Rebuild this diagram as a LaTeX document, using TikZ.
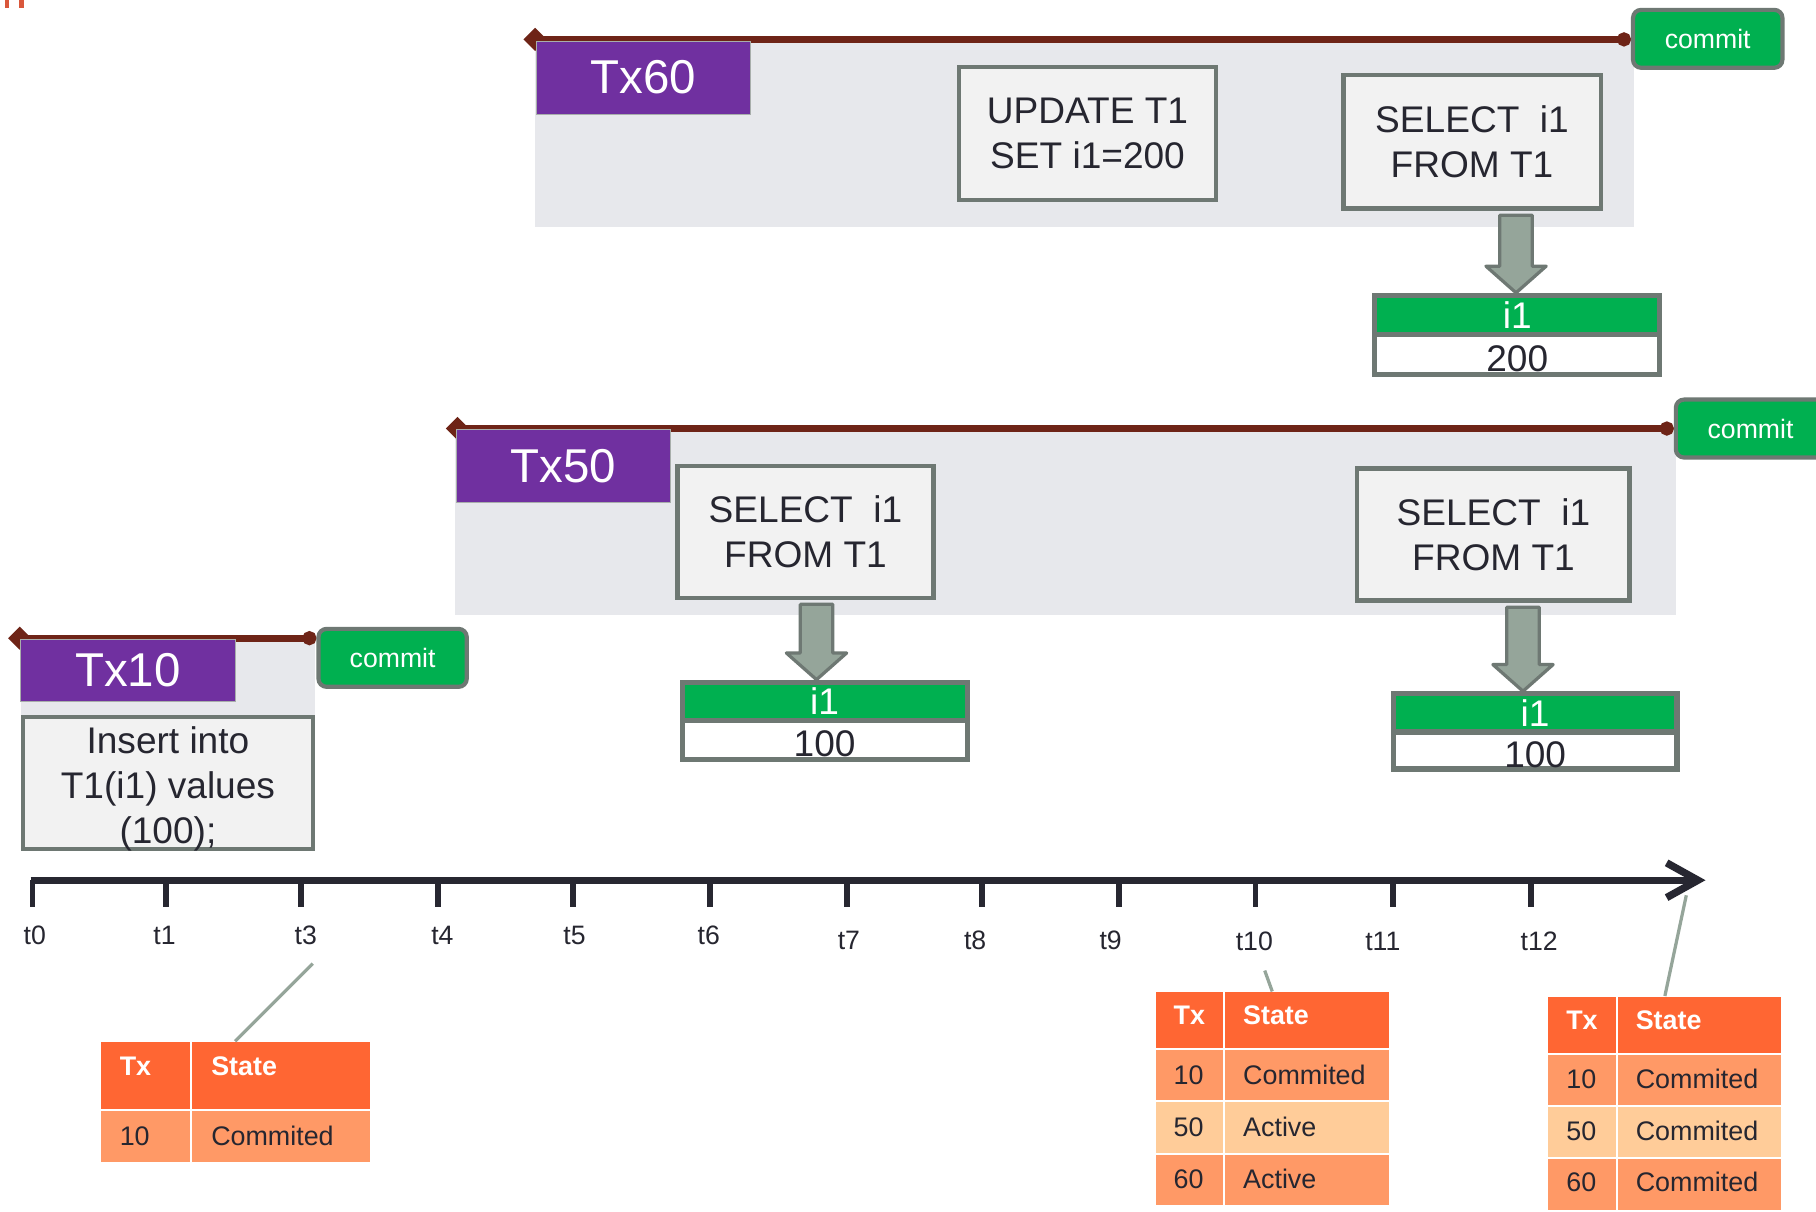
\documentclass[tikz,border=0pt]{standalone}
\usepackage{fontspec}
\setmainfont{Liberation Sans}
\usetikzlibrary{arrows.meta,calc}
\pgfdeclarelayer{lanes}
\pgfdeclarelayer{lifelines}
\pgfsetlayers{lanes,lifelines,main}

\definecolor{lane}{HTML}{E7E8EC}
\definecolor{lifebrown}{HTML}{6E2417}
\definecolor{txpurple}{HTML}{7030A0}
\definecolor{stmtfill}{HTML}{F2F2F2}
\definecolor{edgegray}{HTML}{6E7873}
\definecolor{okgreen}{HTML}{00B050}
\definecolor{dropfill}{HTML}{95A59A}
\definecolor{ink}{HTML}{262630}
\definecolor{axisink}{HTML}{272731}
\definecolor{hdr}{HTML}{FF6633}
\definecolor{rowdark}{HTML}{FF9966}
\definecolor{rowlight}{HTML}{FFCC99}
\definecolor{marker}{HTML}{D9573B}

\tikzset{
  stmt/.style={draw=edgegray, line width=1.8pt, fill=stmtfill, text=ink, align=center,
    inner sep=0pt, font=\fontsize{16}{19.5}\selectfont},
  stmttext/.style={text=ink, align=center, inner sep=0pt, font=\fontsize{16}{19.5}\selectfont},
  txtag/.style={fill=txpurple, draw=edgegray!60, line width=0.4pt, text=white, inner sep=0pt,
    minimum width=92.5pt, font=\fontsize{20.5}{24}\selectfont},
  commitbox/.style={fill=okgreen, draw=edgegray, line width=1.8pt, rounded corners=3.5pt,
    text=white, inner sep=0pt, minimum width=64.5pt, minimum height=25pt,
    font=\fontsize{11.5}{14}\selectfont},
  reshead/.style={fill=okgreen, draw=edgegray, line width=2.2pt, text=white, inner sep=0pt,
    minimum width=123pt, font=\fontsize{16}{18}\selectfont},
  resval/.style={fill=white, draw=edgegray, line width=2.2pt, text=ink, inner sep=0pt,
    minimum width=123pt, text height=14.5pt, text depth=0pt, font=\fontsize{16}{18}\selectfont},
  lifeline/.style={draw=lifebrown, line width=3pt,
    arrows={Diamond[length=10pt,width=10pt]-Circle[length=6pt]}},
  droparrow/.style={fill=dropfill, draw=edgegray, line width=1.4pt, line join=round},
  axisline/.style={draw=axisink, line width=3.2pt},
  tickmark/.style={draw=axisink, line width=2.5pt},
  tlabel/.style={text=ink, inner sep=0pt, font=\fontsize{11.5}{13}\selectfont},
  calloutline/.style={draw=dropfill, line width=1.4pt},
  tabframe/.style={inner sep=0pt, outer sep=0pt},
  tabcell/.style={draw=white, line width=0.9pt},
  headtxt/.style={text=white, inner sep=0pt, anchor=base west,
    font=\fontsize{11.6}{13}\selectfont\bfseries},
  celltxt/.style={text=ink, inner sep=0pt, anchor=base west,
    font=\fontsize{11.6}{13}\selectfont},
}

% block arrow pointing down: #1 column coordinate, #2 source node, #3 target node
\newcommand\dropfrom[3]{%
  \draw[droparrow] ($(#2.south -| #1)+(-14,4)$) -- ($(#2.south -| #1)+(14,4)$)
    -- ($(#3.north -| #1)+(14,-23)$) -- ($(#3.north -| #1)+(26,-23)$)
    -- (#3.north -| #1) -- ($(#3.north -| #1)+(-26,-23)$)
    -- ($(#3.north -| #1)+(-14,-23)$) -- cycle;}

\begin{document}
\begin{tikzpicture}[x=0.5pt, y=-0.5pt]
\useasboundingbox (0,0) rectangle (1568,1046);
\clip (0,0) rectangle (1568,1046);

\begin{pgfonlayer}{lanes}
  \fill[white] (0,0) rectangle (1568,1046);
  \fill[lane] (462,34) rectangle (1411,196);
  \fill[lane] (393,370) rectangle (1447,531);
  \fill[lane] (18,550) rectangle (272,620);
\end{pgfonlayer}

% small marks in the top left corner
\fill[marker] (4,0) rectangle (8,7);
\fill[marker] (16,0) rectangle (21,7);

% ---------------- transaction 60 ----------------
\node[commitbox] (cm60) at (1474.5,33.5) {commit};
\coordinate (s60) at (452,34);
\begin{pgfonlayer}{lifelines}
  \draw[lifeline] (s60) -- (s60 -| cm60.west);
\end{pgfonlayer}
\node[txtag, minimum height=31.5pt] (tag60) at (555.5,67) {Tx60};
\node[stmt, minimum width=111pt, minimum height=57.5pt] (upd60) at (939,115.5) {UPDATE T1\\SET i1=200};
\node[stmt, minimum width=111pt, minimum height=57.5pt] (sel60) at (1271,122.5) {SELECT\ \ i1\\FROM T1};
\node[reshead, minimum height=17pt] (rh60) at (1310,272) {i1};
\node[resval, minimum height=17pt] (rv60) at (1310,306) {200};
\coordinate (ax60) at (1309,0);
\dropfrom{ax60}{sel60}{rh60}

% ---------------- transaction 50 ----------------
\node[commitbox] (cm50) at (1511.5,370) {commit};
\coordinate (s50) at (385,370);
\begin{pgfonlayer}{lifelines}
  \draw[lifeline] (s50) -- (s50 -| cm50.west);
\end{pgfonlayer}
\node[txtag, minimum height=31.5pt] (tag50) at (486.5,402.5) {Tx50};
\node[stmt, minimum width=110.5pt, minimum height=57pt] (sel50a) at (695.5,459) {SELECT\ \ i1\\FROM T1};
\node[stmt, minimum width=117.5pt, minimum height=57pt] (sel50b) at (1289.5,461.5) {SELECT\ \ i1\\FROM T1};
\node[reshead, minimum height=16.5pt] (rh50a) at (712,605.5) {i1};
\node[resval, minimum height=17pt] (rv50a) at (712,639) {100};
\node[reshead, minimum width=122.5pt, minimum height=16.5pt] (rh50b) at (1325.5,615.5) {i1};
\node[resval, minimum width=122.5pt, minimum height=16pt] (rv50b) at (1325.5,648) {100};
\coordinate (ax50a) at (705,0);
\coordinate (ax50b) at (1315,0);
\dropfrom{ax50a}{sel50a}{rh50a}
\dropfrom{ax50b}{sel50b}{rh50b}

% ---------------- transaction 10 ----------------
\node[commitbox, minimum width=64pt] (cm10) at (339,568) {commit};
\coordinate (s10) at (7,551);
\begin{pgfonlayer}{lifelines}
  \draw[lifeline] (s10) -- (s10 -| cm10.west);
\end{pgfonlayer}
\node[txtag, minimum height=26.5pt] (tag10) at (110.5,579) {Tx10};
\node[stmt, minimum width=125pt, minimum height=57pt] (ins10) at (145,676) {};
\node[stmttext] (ins10txt) at (145,681) {Insert into\\T1(i1) values\\(100);};

% ---------------- time axis ----------------
\coordinate (ax0) at (26.5,760);
\coordinate (axE) at (1466,760);
\draw[axisline] (ax0) -- ($(axE)+(-3,0)$);
\draw[axisline, line join=miter, miter limit=10] ($(axE)+(-27,-15)$) -- (axE) -- ($(axE)+(-27,15)$);
\foreach \tx/\lx/\ly/\lab in {28/30/808/t0, 143/142/808/t1, 260/264/808/t3, 378/382/808/t4,
    495/496/808/t5, 613/612/808/t6, 731/733/812/t7, 848/842/812/t8, 966/959/812/t9,
    1084/1083/813/t10, 1203/1194/813/t11, 1322/1329/813/t12}{
  \coordinate (tk\lab) at (\tx,760);
  \draw[tickmark] (tk\lab) -- ++(0,23);
  \node[tlabel] (lb\lab) at (\lx,\ly) {\lab};
}

% ---------------- state tables ----------------
\node[tabframe, minimum width=117pt, minimum height=52.5pt] (tabA) at (203,951.5) {};
\path[tabcell, fill=hdr] (86,899) rectangle (165,958);
\path[tabcell, fill=hdr] (165,899) rectangle (320,958);
\path[tabcell, fill=rowdark] (86,958) rectangle (165,1004);
\path[tabcell, fill=rowdark] (165,958) rectangle (320,1004);
\node[headtxt] (aTx) at (103,929) {Tx};
\node[headtxt] (aState) at (182,929) {State};
\node[celltxt] (aR1a) at (103,989) {10};
\node[celltxt] (aR1b) at (182,989) {Commited};

\node[tabframe, minimum width=101.5pt, minimum height=92.5pt] (tabB) at (1098.5,948.5) {};
\path[tabcell, fill=hdr] (997,856) rectangle (1057,906);
\path[tabcell, fill=hdr] (1057,856) rectangle (1200,906);
\path[tabcell, fill=rowdark] (997,906) rectangle (1057,951);
\path[tabcell, fill=rowdark] (1057,906) rectangle (1200,951);
\path[tabcell, fill=rowlight] (997,951) rectangle (1057,996);
\path[tabcell, fill=rowlight] (1057,951) rectangle (1200,996);
\path[tabcell, fill=rowdark] (997,996) rectangle (1057,1041);
\path[tabcell, fill=rowdark] (1057,996) rectangle (1200,1041);
\node[headtxt] (bTx) at (1013,885) {Tx};
\node[headtxt] (bState) at (1073,885) {State};
\node[celltxt] (bR1a) at (1013,936) {10};
\node[celltxt] (bR1b) at (1073,936) {Commited};
\node[celltxt] (bR2a) at (1013,981) {50};
\node[celltxt] (bR2b) at (1073,981) {Active};
\node[celltxt] (bR3a) at (1013,1026) {60};
\node[celltxt] (bR3b) at (1073,1026) {Active};

\node[tabframe, minimum width=101.5pt, minimum height=93pt] (tabC) at (1437.5,953) {};
\path[tabcell, fill=hdr] (1336,860) rectangle (1396,910);
\path[tabcell, fill=hdr] (1396,860) rectangle (1539,910);
\path[tabcell, fill=rowdark] (1336,910) rectangle (1396,955);
\path[tabcell, fill=rowdark] (1396,910) rectangle (1539,955);
\path[tabcell, fill=rowlight] (1336,955) rectangle (1396,1000);
\path[tabcell, fill=rowlight] (1396,955) rectangle (1539,1000);
\path[tabcell, fill=rowdark] (1336,1000) rectangle (1396,1046);
\path[tabcell, fill=rowdark] (1396,1000) rectangle (1539,1046);
\node[headtxt] (cTx) at (1352,889) {Tx};
\node[headtxt] (cState) at (1412,889) {State};
\node[celltxt] (cR1a) at (1352,940) {10};
\node[celltxt] (cR1b) at (1412,940) {Commited};
\node[celltxt] (cR2a) at (1352,985) {50};
\node[celltxt] (cR2b) at (1412,985) {Commited};
\node[celltxt] (cR3a) at (1352,1029) {60};
\node[celltxt] (cR3b) at (1412,1029) {Commited};

% callout lines from the time axis to the tables
\coordinate (k3) at (270,832);
\coordinate (k10) at (1092,838);
\coordinate (kEnd) at (1456,773);
\draw[calloutline] (k3) -- (tabA.north);
\draw[calloutline] (k10) -- (tabB.north);
\draw[calloutline] (kEnd) -- (tabC.north);
\end{tikzpicture}
\end{document}
